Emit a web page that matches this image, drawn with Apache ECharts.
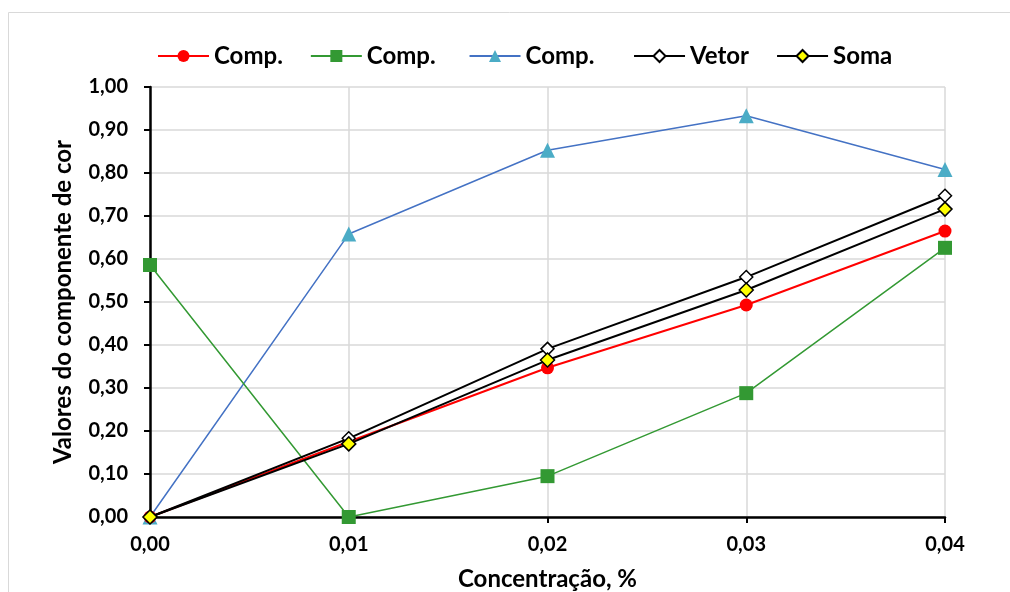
<!DOCTYPE html>
<html lang="pt">
<head>
  <meta charset="UTF-8">
  <title>Componentes de cor</title>
  <script src="https://cdn.jsdelivr.net/npm/echarts@6/dist/echarts.min.js"></script>
  <style>
    html, body { margin: 0; padding: 0; background: #fff; }
  </style>
</head>
<body>
<div id="chart" style="width: 1010px;height: 592px;"></div>
<script>
  // data
  const concentracao = [0, 0.01, 0.02, 0.03, 0.04];
  const compRed = [0, 0.175, 0.347, 0.493, 0.665];
  const compGreen = [0.586, 0, 0.095, 0.288, 0.626];
  const compBlue = [0, 0.658, 0.853, 0.933, 0.808];
  const vetor = [0, 0.183, 0.391, 0.558, 0.747];
  const soma = [0, 0.170, 0.365, 0.528, 0.716];

  const font = 'Lato, "Liberation Sans", sans-serif';
  const fmt = function (v) { return v.toFixed(2).replace('.', ','); };
  const pairs = function (ys) { return concentracao.map(function (x, i) { return [x, ys[i]]; }); };

  let chart = echarts.init(document.getElementById('chart'));
  let option = {
    animation: false,
    textStyle: { fontFamily: font },
    graphic: [{
      type: 'rect',
      z: -10,
      shape: { x: 8.5, y: 12.5, width: 1200, height: 700 },
      style: { fill: 'none', stroke: '#d9d9d9', lineWidth: 1 }
    }],
    legend: {
      left: 152,
      top: 39,
      itemWidth: 51,
      itemHeight: 15,
      itemGap: 27,
      textStyle: { fontFamily: font, fontSize: 24, fontWeight: 'bold', color: '#000' }
    },
    grid: { left: 150, right: 65, top: 87, bottom: 75, containLabel: false, outerBoundsMode: 'none' },
    xAxis: {
      type: 'value',
      min: 0, max: 0.04, interval: 0.01,
      name: 'Concentração, %',
      nameLocation: 'middle',
      nameGap: 50,
      nameTextStyle: { fontFamily: font, fontSize: 24, fontWeight: 'bold', color: '#000' },
      axisLine: { show: true, onZero: false, lineStyle: { color: '#000', width: 2.5 } },
      axisTick: { show: true, length: 6, lineStyle: { color: '#000', width: 2 } },
      axisLabel: { formatter: fmt, margin: 18, fontFamily: font, fontSize: 20, fontWeight: 'bold', color: '#000' },
      splitLine: { show: true, lineStyle: { color: '#d9d9d9', width: 1.5 } }
    },
    yAxis: {
      type: 'value',
      min: 0, max: 1, interval: 0.1,
      name: 'Valores do componente de cor',
      nameLocation: 'middle',
      nameGap: 75,
      nameTextStyle: { fontFamily: font, fontSize: 24, fontWeight: 'bold', color: '#000' },
      axisLine: { show: true, lineStyle: { color: '#000', width: 2.5 } },
      axisTick: { show: true, length: 6, lineStyle: { color: '#000', width: 2 } },
      axisLabel: { formatter: fmt, margin: 22, fontFamily: font, fontSize: 20, fontWeight: 'bold', color: '#000' },
      splitLine: { show: true, lineStyle: { color: '#d9d9d9', width: 1.5 } }
    },
    series: [
      {
        name: 'Comp.', type: 'line', data: pairs(compRed),
        symbol: 'circle', symbolSize: 13,
        lineStyle: { color: '#ff0000', width: 2 },
        itemStyle: { color: '#ff0000' }, z: 3
      },
      {
        name: 'Comp. ', type: 'line', data: pairs(compGreen),
        symbol: 'rect', symbolSize: 14,
        lineStyle: { color: '#339933', width: 1.5 },
        itemStyle: { color: '#339933' }, z: 2
      },
      {
        name: 'Comp.  ', type: 'line', data: pairs(compBlue),
        symbol: 'triangle', symbolSize: 15,
        lineStyle: { color: '#4472c4', width: 1.5 },
        itemStyle: { color: '#4bacc6' }, z: 1
      },
      {
        name: 'Vetor', type: 'line', data: pairs(vetor),
        symbol: 'diamond', symbolSize: 13,
        lineStyle: { color: '#000', width: 2 },
        itemStyle: { color: '#fff', borderColor: '#000', borderWidth: 1.5 }, z: 4
      },
      {
        name: 'Soma', type: 'line', data: pairs(soma),
        symbol: 'diamond', symbolSize: 14,
        lineStyle: { color: '#000', width: 2 },
        itemStyle: { color: '#ffff00', borderColor: '#000', borderWidth: 1.5 }, z: 5
      }
    ]
  };
  chart.setOption(option);
</script>
</body>
</html>
